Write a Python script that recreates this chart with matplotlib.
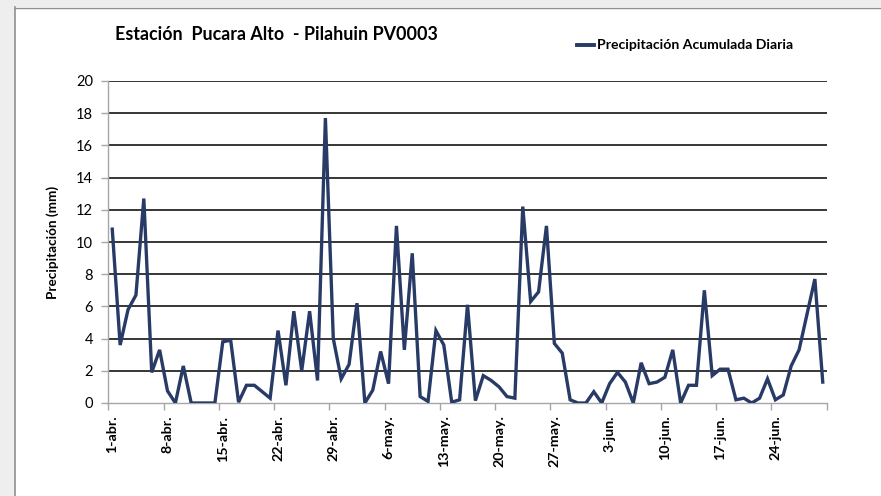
import matplotlib

matplotlib.use("Agg")

import matplotlib.pyplot as plt
import numpy as np
from matplotlib.lines import Line2D

TITLE = "Estación  Pucara Alto  - Pilahuin PV0003"
SERIES_NAME = "Precipitación Acumulada Diaria"
Y_LABEL = "Precipitación (mm)"

# daily accumulated precipitation, 1-abr .. 30-jun (91 days)
precip_abr = [10.8, 3.6, 5.8, 6.7, 12.7, 1.9, 3.3, 0.75, 0.0, 2.3,
              0.0, 0.0, 0.0, 0.0, 3.8, 3.9, 0.05, 1.1, 1.1, 0.7,
              0.3, 4.5, 1.1, 5.7, 2.0, 5.7, 1.4, 17.7, 4.0, 1.5]
precip_may = [2.4, 6.2, 0.0, 0.8, 3.2, 1.2, 11.0, 3.3, 9.3, 0.4,
              0.1, 4.5, 3.6, 0.05, 0.2, 6.1, 0.15, 1.7, 1.4, 1.0,
              0.4, 0.3, 12.2, 6.3, 6.9, 11.0, 3.7, 3.1, 0.2, 0.0,
              0.0]
precip_jun = [0.7, 0.0, 1.2, 1.9, 1.3, 0.0, 2.5, 1.2, 1.3, 1.6,
              3.3, 0.0, 1.1, 1.1, 7.0, 1.7, 2.1, 2.1, 0.2, 0.3,
              0.0, 0.3, 1.5, 0.2, 0.5, 2.3, 3.3, 5.5, 7.7, 1.3]
precip = precip_abr + precip_may + precip_jun

day_labels = ([f"{d}-abr." for d in range(1, 31)]
              + [f"{d}-may." for d in range(1, 32)]
              + [f"{d}-jun." for d in range(1, 31)])
label_step = 7
y_ticks = list(range(0, 21, 2))

LINE = "#283a66"
AXIS_GREY = "#a6a6a6"

plt.rcParams["font.family"] = ["Lato", "DejaVu Sans"]

fig = plt.figure(figsize=(8.81, 4.96), dpi=100)
fig.patch.set_facecolor("white")

# grey frame strips along the top and left edges
fig.add_artist(plt.Rectangle((0, 0), 15 / 881, 1, transform=fig.transFigure,
                             facecolor="#eeeeee", edgecolor="none", zorder=0))
fig.add_artist(plt.Rectangle((0, 1 - 7 / 496), 1, 7 / 496, transform=fig.transFigure,
                             facecolor="#eeeeee", edgecolor="none", zorder=0))
fig.add_artist(Line2D([15 / 881, 15 / 881], [0, 1 - 7 / 496], transform=fig.transFigure,
                      color="#909090", lw=1.2))
fig.add_artist(Line2D([15 / 881, 1], [1 - 7.5 / 496, 1 - 7.5 / 496], transform=fig.transFigure,
                      color="#909090", lw=1.0))

ax = fig.add_axes([108.3 / 881, 1 - 403 / 496, 718.4 / 881, 322 / 496])

x = np.arange(len(precip))
ax.plot(x, precip, color=LINE, lw=2.4, solid_joinstyle="miter", zorder=3)

ax.set_xlim(-0.5, len(precip) - 0.5)
ax.set_ylim(0, 20)
ax.set_yticks(y_ticks)
ax.set_yticklabels([str(v) for v in y_ticks], fontsize=10.5)
for v in y_ticks[1:]:
    ax.axhline(v, color="black", lw=1.1, zorder=1)

ax.set_xticks(x[::label_step])
ax.set_xticklabels(day_labels[::label_step], rotation=90, fontsize=10.3,
                   fontweight="bold")
ax.set_xticks(np.arange(-0.5, len(precip), label_step), minor=True)
ax.tick_params(axis="x", which="major", length=0, pad=9)
ax.tick_params(axis="x", which="minor", length=5, color=AXIS_GREY, width=1)
ax.tick_params(axis="y", length=5, color=AXIS_GREY, width=1, pad=6)

for side in ("top", "right"):
    ax.spines[side].set_visible(False)
for side in ("left", "bottom"):
    ax.spines[side].set_color(AXIS_GREY)
    ax.spines[side].set_linewidth(1.0)

ax.set_ylabel(Y_LABEL, fontsize=9.7, fontweight="bold", labelpad=12)

fig.text(115 / 881, 1 - 35 / 496, TITLE, fontsize=12.9, fontweight="bold",
         va="center", ha="left")
fig.add_artist(Line2D([577 / 881, 594 / 881], [1 - 45 / 496, 1 - 45 / 496],
                      transform=fig.transFigure, color=LINE, lw=2.8))
fig.text(597 / 881, 1 - 45 / 496, SERIES_NAME, fontsize=10.1, fontweight="bold",
         va="center", ha="left")

fig.savefig("out.png", dpi=100)
